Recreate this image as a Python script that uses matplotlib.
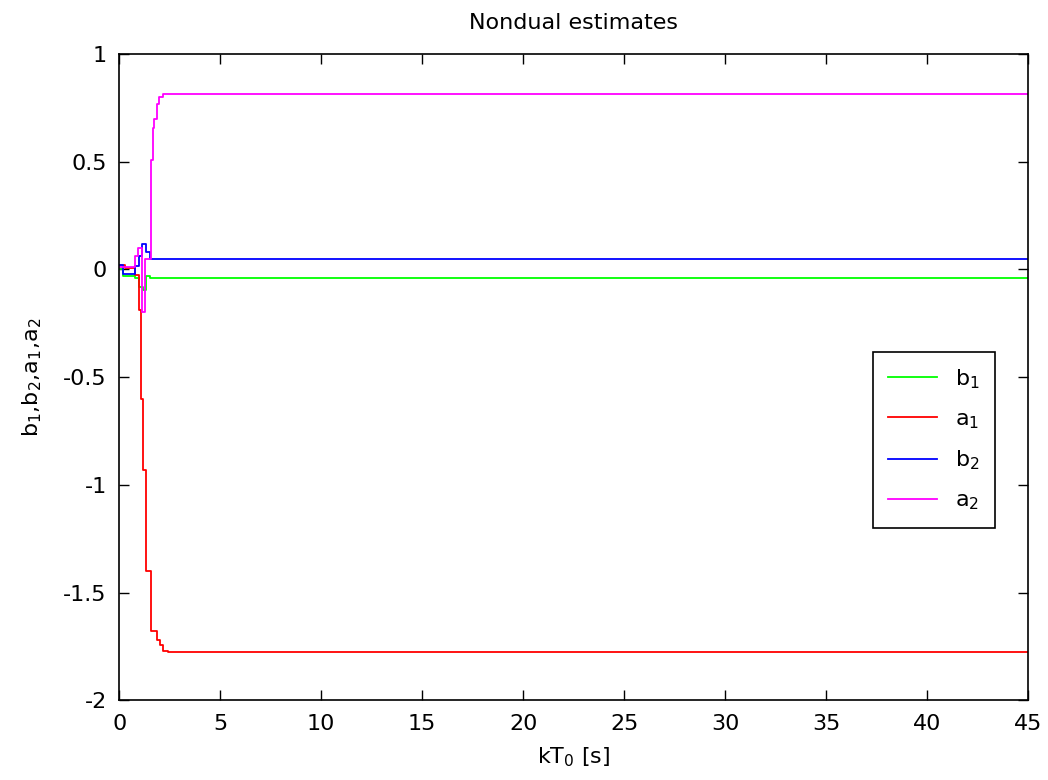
import matplotlib
matplotlib.use("Agg")
import matplotlib.pyplot as plt

# Parameter estimate breakpoints (time in s, value held until the next breakpoint)
T_END = 45.0

t_b1 = [0.0, 0.2, 0.8, 1.0, 1.2, 1.3, 1.5]
b1 = [0.0, -0.03, -0.04, -0.08, -0.095, -0.03, -0.04]

t_a1 = [0.0, 0.3, 0.8, 0.99, 1.07, 1.19, 1.32, 1.55, 1.85, 2.01, 2.18, 2.43]
a1 = [0.02, 0.005, -0.025, -0.19, -0.60, -0.93, -1.40, -1.68, -1.72, -1.745, -1.77, -1.778]

t_b2 = [0.0, 0.2, 0.8, 1.0, 1.15, 1.3, 1.5]
b2 = [0.02, -0.02, 0.015, 0.06, 0.12, 0.08, 0.05]

t_a2 = [0.0, 0.8, 0.95, 1.15, 1.27, 1.55, 1.65, 1.73, 1.85, 1.98, 2.18]
a2 = [0.01, 0.06, 0.1, -0.2, 0.05, 0.51, 0.655, 0.70, 0.77, 0.80, 0.815]

series = [
    (t_b1, b1, '#00ff00', r'$\mathregular{b_1}$'),
    (t_a1, a1, '#ff0000', r'$\mathregular{a_1}$'),
    (t_b2, b2, '#0000ff', r'$\mathregular{b_2}$'),
    (t_a2, a2, '#ff00ff', r'$\mathregular{a_2}$'),
]

plt.rcParams['font.family'] = ['DejaVu Sans']
plt.rcParams['font.size'] = 16

fig = plt.figure(figsize=(10.48, 7.8), dpi=100)
ax = fig.add_axes([0.1138, 0.1022, 0.8672, 0.8286])

for t, v, color, label in series:
    # hold last estimate to the end of the run
    ax.plot(list(t) + [T_END], list(v) + [v[-1]], drawstyle='steps-post',
            color=color, linewidth=1.3, label=label)

ax.set_xlim(0, 45)
ax.set_ylim(-2, 1)
ax.set_xticks(range(0, 46, 5))
ax.set_yticks([-2, -1.5, -1, -0.5, 0, 0.5, 1])
ax.set_yticklabels(['-2', '-1.5', '-1', '-0.5', '0', '0.5', '1'])
ax.tick_params(direction='in', top=True, right=True, length=7, width=1, labelsize=16)
ax.tick_params(axis='y', pad=9)
ax.tick_params(axis='x', pad=10)
for sp in ax.spines.values():
    sp.set_linewidth(1.2)

ax.set_title('Nondual estimates', fontsize=16, pad=18)
ax.set_xlabel(r'$\mathregular{kT_0}$ [s]', fontsize=16, labelpad=8)
ax.set_ylabel(r'$\mathregular{b_1{,}b_2{,}a_1{,}a_2}$', fontsize=16, labelpad=14)

leg = ax.legend(loc='upper right', bbox_to_anchor=(0.9637, 0.5394), borderaxespad=0,
                fancybox=False, framealpha=1, edgecolor='black', fontsize=16,
                handlelength=2.2, labelspacing=0.82, borderpad=0.7)
leg.get_frame().set_linewidth(1.2)

fig.savefig('out.png', dpi=100)
